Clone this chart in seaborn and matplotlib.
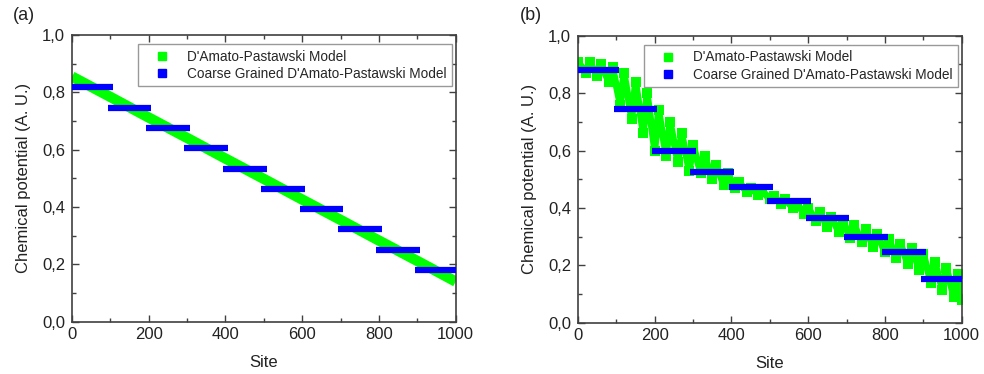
import matplotlib
matplotlib.use("Agg")
import matplotlib.pyplot as plt
from matplotlib.lines import Line2D
from matplotlib.ticker import MultipleLocator, FuncFormatter
import seaborn as sns
import pandas as pd

# ---- data ----
# panel (a): D'Amato-Pastawski model (straight profile)
site_a = [0, 100, 200, 300, 400, 500, 600, 700, 800, 900, 1000]
mu_a = [0.855, 0.784, 0.712, 0.641, 0.569, 0.498, 0.426, 0.355, 0.283, 0.212, 0.140]
# coarse grained steps (block centres)
cg_centers = [50, 150, 250, 350, 450, 550, 650, 750, 850, 950]
cg_a = [0.820, 0.746, 0.677, 0.606, 0.534, 0.464, 0.393, 0.322, 0.251, 0.180]

# panel (b): D'Amato-Pastawski model (oscillating profile)
site_b = [0, 20, 30, 50, 60, 80, 90, 110, 120, 140, 150, 170, 180, 200, 210, 230,
          240, 260, 270, 290, 300, 320, 330, 350, 360, 380, 390, 410, 420, 440,
          450, 470, 480, 500, 510, 530, 540, 560, 570, 590, 600, 620, 630, 650,
          660, 680, 690, 710, 720, 740, 750, 770, 780, 800, 810, 830, 840, 860,
          870, 890, 900, 920, 930, 950, 960, 980, 990, 1000]
mu_b = [0.91, 0.87, 0.91, 0.86, 0.90, 0.84, 0.89, 0.76, 0.87, 0.71, 0.84, 0.66,
        0.80, 0.60, 0.74, 0.58, 0.70, 0.56, 0.66, 0.53, 0.62, 0.52, 0.58, 0.50,
        0.55, 0.48, 0.52, 0.47, 0.49, 0.455, 0.47, 0.445, 0.46, 0.43, 0.44,
        0.415, 0.43, 0.40, 0.415, 0.38, 0.40, 0.355, 0.385, 0.335, 0.37, 0.315,
        0.355, 0.295, 0.34, 0.28, 0.325, 0.265, 0.31, 0.245, 0.29, 0.225, 0.275,
        0.205, 0.26, 0.185, 0.24, 0.14, 0.21, 0.115, 0.19, 0.09, 0.17, 0.08]
cg_b = [0.880, 0.746, 0.600, 0.526, 0.472, 0.423, 0.365, 0.299, 0.245, 0.152]

panel_labels = ["(a)", "(b)"]
legend_labels = ["D'Amato-Pastawski Model", "Coarse Grained D'Amato-Pastawski Model"]
xlabel = "Site"
ylabel = "Chemical potential (A. U.)"

GREEN = "#00ff00"
BLUE = "#0000ff"
SPINE = "#404040"
TEXT = "#222222"

sns.set_style("ticks")
plt.rcParams["font.family"] = ["Liberation Sans", "DejaVu Sans"]

fig = plt.figure(figsize=(9.84, 3.74), dpi=100)
ax_a = fig.add_axes([0.0732, 0.1398, 0.3899, 0.7666])
ax_b = fig.add_axes([0.5874, 0.1372, 0.3899, 0.7673])

bar_half = 57


def style(ax):
    ax.set_xlim(0, 1000)
    ax.set_ylim(0, 1.0)
    ax.xaxis.set_major_locator(MultipleLocator(200))
    ax.xaxis.set_minor_locator(MultipleLocator(100))
    ax.yaxis.set_major_locator(MultipleLocator(0.2))
    ax.yaxis.set_minor_locator(MultipleLocator(0.1))
    ax.yaxis.set_major_formatter(FuncFormatter(lambda v, p: f"{v:.1f}".replace(".", ",")))
    ax.tick_params(which="both", direction="in", top=True, right=True,
                   color=SPINE, width=1.0)
    ax.tick_params(which="major", length=5, labelsize=12, labelcolor=TEXT)
    ax.tick_params(axis="y", which="major", pad=5)
    ax.tick_params(axis="x", which="major", pad=4)
    ax.tick_params(which="minor", length=3)
    for s in ax.spines.values():
        s.set_visible(True)
        s.set_color(SPINE)
        s.set_linewidth(1.2)
    ax.set_xlabel(xlabel, fontsize=12, color=TEXT, labelpad=9)
    ax.set_ylabel(ylabel, fontsize=12, color=TEXT, labelpad=8)
    handles = [Line2D([], [], marker="s", ls="none", color=GREEN, markersize=6),
               Line2D([], [], marker="s", ls="none", color=BLUE, markersize=6)]
    leg = ax.legend(handles, legend_labels, loc="upper right",
                    bbox_to_anchor=(0.99, 0.968), fontsize=9.8, frameon=True,
                    fancybox=False, edgecolor="#999999", framealpha=1,
                    borderpad=0.4, handletextpad=0.5, labelspacing=0.25,
                    borderaxespad=0, handlelength=2.7)
    leg.get_frame().set_linewidth(1.0)


df_a = pd.DataFrame({"site": site_a, "mu": mu_a})
sns.lineplot(data=df_a, x="site", y="mu", ax=ax_a, color=GREEN, lw=7.5,
             solid_capstyle="butt", zorder=2)
ax_a.hlines(cg_a, [c - bar_half for c in cg_centers], [c + bar_half for c in cg_centers],
            colors=BLUE, lw=4.5, zorder=3)

df_b = pd.DataFrame({"site": site_b, "mu": mu_b})
sns.lineplot(data=df_b, x="site", y="mu", ax=ax_b, color=GREEN, lw=5,
             marker="s", markersize=7, markeredgewidth=0, sort=False, zorder=2,
             solid_joinstyle="round")
ax_b.hlines(cg_b, [c - bar_half for c in cg_centers], [c + bar_half for c in cg_centers],
            colors=BLUE, lw=4.5, zorder=3)

style(ax_a)
style(ax_b)

fig.text(0.013, 0.958, panel_labels[0], fontsize=13, color=TEXT, va="center")
fig.text(0.528, 0.958, panel_labels[1], fontsize=13, color=TEXT, va="center")

fig.savefig("out.png", dpi=100)
